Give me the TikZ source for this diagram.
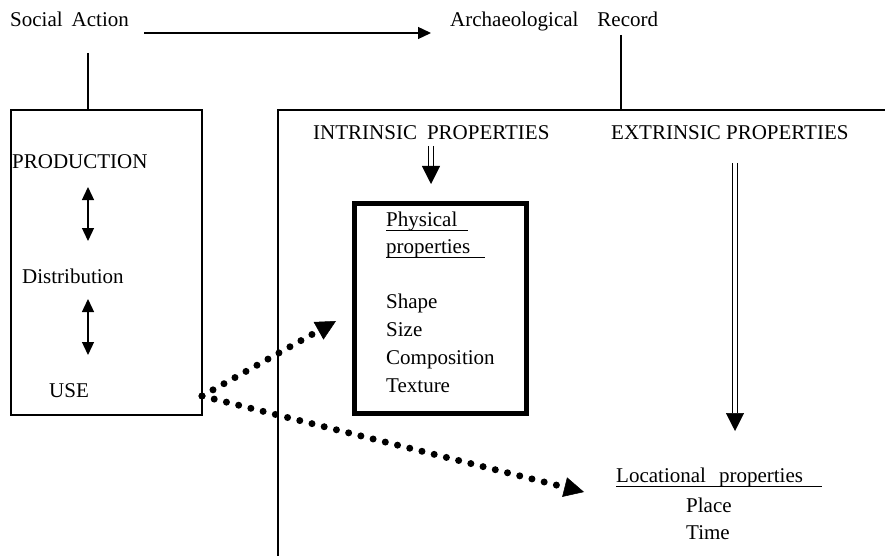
\documentclass[tikz,border=0pt]{standalone}
\usepackage{fontspec}
\setmainfont{Liberation Serif}
\usetikzlibrary{arrows.meta}
\begin{document}
\begin{tikzpicture}[x=1pt,y=-1pt,
  lbl/.style={anchor=base west, inner sep=0pt, font=\fontsize{21}{25}\selectfont},
  rule/.style={line width=1.3pt},
  ulined/.style={line width=1pt},
  solidarrow/.style={line width=1.3pt, -{Triangle[length=13pt,width=12pt]}},
  bothways/.style={line width=1.3pt, {Triangle[length=13pt,width=12pt]}-{Triangle[length=13pt,width=12pt]}},
  dblarrow/.style={double, double distance=3.2pt, line width=1.3pt, -{Triangle[length=18pt,width=18pt,line width=0.5pt]}},
  dotarrow/.style={line width=7pt, line cap=round, dash pattern=on 0pt off 12.6pt,
    -{Triangle[length=20pt,width=20pt,line width=0.5pt]}},
  heavybox/.style={line width=5pt}
]
\useasboundingbox (0,0) rectangle (885,556);

% headings
\node[lbl] (sa) at (10,27) {Social\hspace{9pt}Action};
\node[lbl] (ar) at (450,27) {Archaeological\hspace{19pt}Record};
\coordinate (saR) at (144,33);
\coordinate (arL) at (431,33);
\draw[solidarrow] (saR) -- (arL);

% left column: social action
\coordinate (saDrop) at (88,53);
\coordinate (actTop) at (88,110);
\draw[rule] (saDrop) -- (actTop);
\draw[rule] (11,110) rectangle (202,415);
\node[lbl] (prod) at (12,168) {PRODUCTION};
\node[lbl] (dist) at (22,283) {Distribution};
\node[lbl] (use) at (49,397) {USE};
\coordinate (a1t) at (88,187);
\coordinate (a1b) at (88,241);
\coordinate (a2t) at (88,299);
\coordinate (a2b) at (88,355);
\draw[bothways] (a1t) -- (a1b);
\draw[bothways] (a2t) -- (a2b);

% right frame: archaeological record
\coordinate (arDrop) at (621,35);
\coordinate (arTop) at (621,110);
\draw[rule] (arDrop) -- (arTop);
\draw[rule] (278,556) -- (278,110) -- (885,110);
\node[lbl] (intr) at (313,140) {INTRINSIC\hspace{10pt}PROPERTIES};
\node[lbl] (extr) at (611,140) {EXTRINSIC PROPERTIES};
\coordinate (intrA) at (431,146);
\coordinate (intrB) at (431,184);
\draw[dblarrow] (intrA) -- (intrB);
\coordinate (extrA) at (735,163);
\coordinate (extrB) at (735,431);
\draw[dblarrow] (extrA) -- (extrB);

% physical properties
\draw[heavybox] (354,203) rectangle (526,413);
\node[lbl] (phys1) at (386,226) {Physical};
\node[lbl] (phys2) at (386,253) {properties};
\draw[ulined] (386,230) -- (468,230);
\draw[ulined] (386,257.5) -- (485,257.5);
\node[lbl] (shape) at (386,308) {Shape};
\node[lbl] (size) at (386,336) {Size};
\node[lbl] (comp) at (386,364) {Composition};
\node[lbl] (text) at (386,392) {Texture};

% locational properties
\node[lbl] (loc) at (616,482) {Locational\hspace{13pt}properties};
\draw[ulined] (616,486.5) -- (822,486.5);
\node[lbl] (place) at (686,512) {Place};
\node[lbl] (time) at (686,539) {Time};

% dotted links from use
\coordinate (useR) at (202,396);
\coordinate (physTip) at (336,321);
\coordinate (locTip) at (584,492);
\draw[dotarrow] (useR) -- (physTip);
\draw[dotarrow] (useR) -- (locTip);
\end{tikzpicture}
\end{document}
